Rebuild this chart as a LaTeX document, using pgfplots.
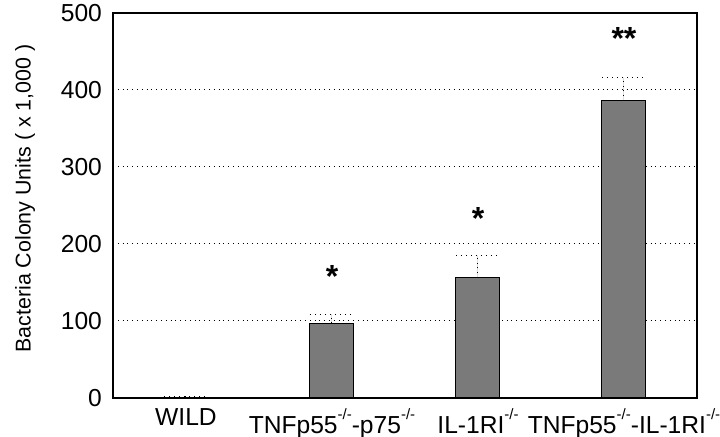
\documentclass[border=0pt]{standalone}
\usepackage{fontspec}
\setmainfont{Liberation Sans}
\usepackage{pgfplots}
\pgfplotsset{compat=1.18}
\newcommand{\ko}{\raisebox{0.55em}{\fontsize{7.5}{8}\selectfont -/-}}

\begin{document}
\begin{tikzpicture}
\begin{axis}[
    width=292pt, height=192.5pt,
    scale only axis,
    xmin=-0.5, xmax=3.5,
    ymin=0, ymax=500,
    ytick={0,100,200,300,400,500},
    xtick={0,1,2,3},
    xticklabels={WILD,
      TNFp55\ko-p75\ko,
      IL-1RI\ko,
      TNFp55\ko-IL-1RI\ko},
    major tick length=0pt,
    ymajorgrids,
    grid style={black, dotted, line width=0.5pt},
    axis line style={black, line width=0.6pt},
    tick label style={font=\fontsize{12.3}{14}\selectfont},
    yticklabel style={xshift=-2pt},
    xticklabel style={yshift=-2pt},
    /pgf/number format/assume math mode=true,
    ylabel={Bacteria Colony Units ( x 1,000 )},
    ylabel style={font=\fontsize{10.7}{13}\selectfont, yshift=6pt, xshift=3.5pt},
]
\addplot[ybar, bar width=22pt, draw=black, line width=0.5pt, fill=black!52,
    error bars/.cd, y dir=plus, y explicit, error mark=|,
    error bar style={black, dotted, line width=0.5pt},
    error mark options={mark size=11pt, black, dotted, line width=0.5pt}]
  coordinates {
    (0,1) +- (0,1.5)
    (1,97) +- (0,12)
    (2,156) +- (0,29)
    (3,386) +- (0,30)
  };
\addplot[only marks, mark=none, nodes near coords, point meta=explicit symbolic,
    every node near coord/.style={anchor=center, font=\fontsize{16}{16}\selectfont\bfseries}]
  coordinates {
    (1,158) [*]
    (2,233) [*]
    (3,467) [**]
  };
\end{axis}
\pgfresetboundingbox
\path[use as bounding box] (-56.5pt,-19.5pt) rectangle (303.5pt,199pt);
\end{tikzpicture}
\end{document}
